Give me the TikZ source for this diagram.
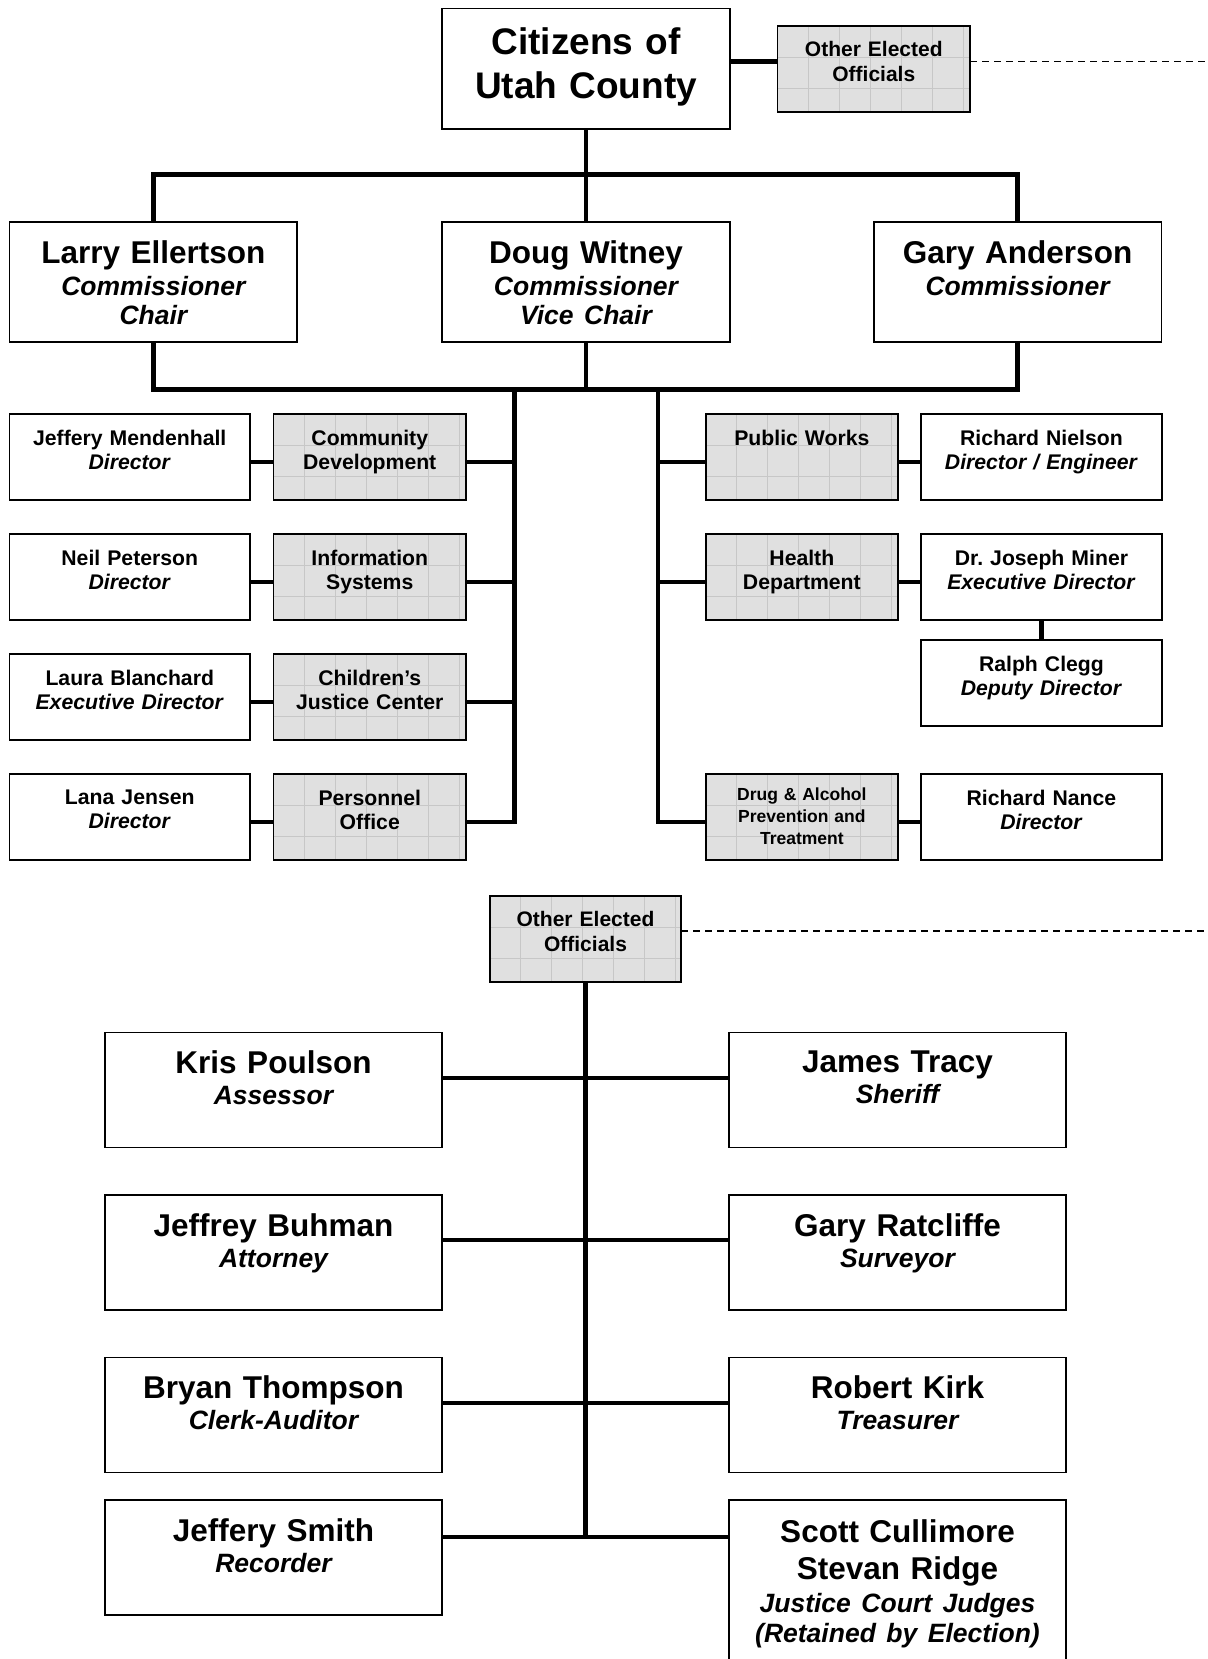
\documentclass[tikz,border=0pt]{standalone}
\usepackage{fontspec}
\setmainfont{Liberation Sans}
\newcommand\rolet[1]{{\fontsize{13.25}{14.8}\selectfont\itshape #1}}
\begin{document}
\frenchspacing
\begin{tikzpicture}[x=0.5pt,y=-0.5pt,
  box/.style={draw=black, line width=0.9pt, fill=white, inner sep=0pt, outer sep=0pt, rectangle},
  gridln/.style={draw=black!22, line width=0.35pt},
  dept/.style={box, fill=black!12, path picture={
      \foreach \k in {1,...,14}{
        \draw[gridln] ([xshift=\k*15.5pt]path picture bounding box.north west) -- ([xshift=\k*15.5pt]path picture bounding box.south west);
        \draw[gridln] ([yshift=-\k*15.5pt]path picture bounding box.north west) -- ([yshift=-\k*15.5pt]path picture bounding box.north east);
      }}},
  conn/.style={line width=2.2pt, line join=miter},
  dashln/.style={line width=0.65pt, dash pattern=on 3.6pt off 2.4pt},
  tx/.style={inner sep=0pt, outer sep=0pt, anchor=north, align=center},
  fbig/.style={font=\fontsize{18.5}{21.65}\selectfont\bfseries},
  fname/.style={font=\fontsize{15.75}{14.8}\selectfont\bfseries},
  fsmall/.style={font=\fontsize{10.6}{11.9}\selectfont\bfseries},
  ftiny/.style={font=\fontsize{8.75}{10.85}\selectfont\bfseries},
  foe/.style={font=\fontsize{10.5}{12.65}\selectfont\bfseries},
  pbox/.style={box, minimum width=120.2pt, minimum height=43pt},
  dbox/.style={dept, minimum width=96.25pt, minimum height=43pt},
  cbox/.style={box, minimum width=143.9pt, minimum height=59.8pt},
  ebox/.style={box, minimum width=168.5pt, minimum height=57.5pt},
]
\useasboundingbox (0,0) rectangle (1208,1659);
\clip (0,0) rectangle (1208,1659);

% ---------- top ----------
\node[box, minimum width=143.9pt, minimum height=60.3pt] (cit) at (586,68.8) {};
\node[tx, fbig, text width=143pt] (cit-t) at ([yshift=-9.75pt]cit.north) {Citizens of\\Utah County};
\node[dept, minimum width=96.3pt, minimum height=42.9pt] (oe1) at (873.8,69.3) {};
\node[tx, foe, text width=96pt] (oe1-t) at ([yshift=-7.4pt]oe1.north) {Other Elected\\Officials};

% ---------- commissioners ----------
\node[cbox] (larry) at (153.4,281.9) {};
\node[cbox] (doug) at (586,281.9) {};
\node[cbox] (gary) at (1017.6,281.9) {};
\node[tx, fname, text width=143pt] (larry-t) at ([yshift=-9.25pt]larry.north) {Larry Ellertson\\[1.1pt]\rolet{Commissioner}\\\rolet{Chair}};
\node[tx, fname, text width=143pt] (doug-t) at ([yshift=-9.25pt]doug.north) {Doug Witney\\[1.1pt]\rolet{Commissioner}\\\rolet{Vice Chair}};
\node[tx, fname, text width=143pt] (gary-t) at ([yshift=-9.25pt]gary.north) {Gary Anderson\\[1.1pt]\rolet{Commissioner}};

% ---------- left departments ----------
\node[pbox] (jm) at (129.75,457) {};
\node[dbox] (cd) at (369.75,457) {};
\node[pbox] (np) at (129.75,577) {};
\node[dbox] (is) at (369.75,577) {};
\node[pbox] (lb) at (129.75,697) {};
\node[dbox] (cjc) at (369.75,697) {};
\node[pbox] (lj) at (129.75,817) {};
\node[dbox] (po) at (369.75,817) {};

\node[tx, fsmall, text width=120pt] (jm-t) at ([yshift=-8pt]jm.north) {Jeffery Mendenhall\\\textit{Director}};
\node[tx, fsmall, text width=96pt] (cd-t) at ([yshift=-8pt]cd.north) {Community\\Development};
\node[tx, fsmall, text width=120pt] (np-t) at ([yshift=-8pt]np.north) {Neil Peterson\\\textit{Director}};
\node[tx, fsmall, text width=96pt] (is-t) at ([yshift=-8pt]is.north) {Information\\Systems};
\node[tx, fsmall, text width=120pt] (lb-t) at ([yshift=-8pt]lb.north) {Laura Blanchard\\\textit{Executive Director}};
\node[tx, fsmall, text width=96pt] (cjc-t) at ([yshift=-8pt]cjc.north) {Children’s\\Justice Center};
\node[tx, fsmall, text width=120pt] (lj-t) at ([yshift=-8pt]lj.north) {Lana Jensen\\\textit{Director}};
\node[tx, fsmall, text width=96pt] (po-t) at ([yshift=-8pt]po.north) {Personnel\\Office};

% ---------- right departments ----------
\node[dbox] (pw) at (801.85,457) {};
\node[pbox] (rn) at (1041.45,457) {};
\node[dbox] (hd) at (801.85,577) {};
\node[pbox] (jmi) at (1041.45,577) {};
\node[pbox] (rc) at (1041.45,683) {};
\node[dbox] (da) at (801.85,817) {};
\node[pbox] (rnc) at (1041.45,817) {};

\node[tx, fsmall, text width=96pt] (pw-t) at ([yshift=-8pt]pw.north) {Public Works};
\node[tx, fsmall, text width=120pt] (rn-t) at ([yshift=-8pt]rn.north) {Richard Nielson\\\textit{Director / Engineer}};
\node[tx, fsmall, text width=96pt] (hd-t) at ([yshift=-8pt]hd.north) {Health\\Department};
\node[tx, fsmall, text width=120pt] (jmi-t) at ([yshift=-8pt]jmi.north) {Dr. Joseph Miner\\\textit{Executive Director}};
\node[tx, fsmall, text width=120pt] (rc-t) at ([yshift=-8pt]rc.north) {Ralph Clegg\\\textit{Deputy Director}};
\node[tx, ftiny, text width=96pt] (da-t) at ([yshift=-7pt]da.north) {Drug \& Alcohol\\Prevention and\\Treatment};
\node[tx, fsmall, text width=120pt] (rnc-t) at ([yshift=-8pt]rnc.north) {Richard Nance\\\textit{Director}};

% ---------- other elected officials ----------
\node[dept, minimum width=95.7pt, minimum height=42.85pt] (oe2) at (585.5,938.9) {};
\node[tx, foe, text width=95pt] (oe2-t) at ([yshift=-7.6pt]oe2.north) {Other Elected\\Officials};

\node[ebox] (kp) at (273.5,1090) {};
\node[ebox] (jt) at (897.5,1090) {};
\node[ebox] (jb) at (273.5,1252.5) {};
\node[ebox] (gr) at (897.5,1252.5) {};
\node[ebox] (bt) at (273.5,1415) {};
\node[ebox] (rk) at (897.5,1415) {};
\node[ebox] (js) at (273.5,1557.7) {};
\node[box, minimum width=168.5pt, minimum height=110pt] (sc) at (897.5,1610) {};

\node[tx, fname, text width=168pt] (kp-t) at ([yshift=-9.3pt]kp.north) {Kris Poulson\\[0.6pt]\rolet{Assessor}};
\node[tx, fname, text width=168pt] (jt-t) at ([yshift=-9.3pt]jt.north) {James Tracy\\[0.6pt]\rolet{Sheriff}};
\node[tx, fname, text width=168pt] (jb-t) at ([yshift=-9.3pt]jb.north) {Jeffrey Buhman\\[0.6pt]\rolet{Attorney}};
\node[tx, fname, text width=168pt] (gr-t) at ([yshift=-9.3pt]gr.north) {Gary Ratcliffe\\[0.6pt]\rolet{Surveyor}};
\node[tx, fname, text width=168pt] (bt-t) at ([yshift=-9.3pt]bt.north) {Bryan Thompson\\[0.6pt]\rolet{Clerk-Auditor}};
\node[tx, fname, text width=168pt] (rk-t) at ([yshift=-9.3pt]rk.north) {Robert Kirk\\[0.6pt]\rolet{Treasurer}};
\node[tx, fname, text width=168pt] (js-t) at ([yshift=-9.3pt]js.north) {Jeffery Smith\\[0.6pt]\rolet{Recorder}};
\node[tx, fname, text width=168pt] (sc-t) at ([yshift=-9.8pt]sc.north) {Scott Cullimore\\[3.7pt]Stevan Ridge\\[1.9pt]\rolet{Justice Court Judges}\\\rolet{(Retained by Election)}};

% ---------- connectors ----------
\coordinate (c0) at (0,61.4);
\coordinate (edge1) at (1208,61.4);
\draw[conn] (cit.east |- c0) -- (oe1.west |- c0);
\draw[dashln] (oe1.east |- c0) -- (edge1);

\coordinate (tbar) at (586,174.5);
\coordinate (bbar) at (586,389.3);
\draw[conn] (cit.south) -- (doug.north);
\draw[conn] (larry.north) |- (tbar) -| (gary.north);
\draw[conn] (doug.south) -- (bbar);
\draw[conn] (larry.south) |- (bbar) -| (gary.south);

\coordinate (ltrunk) at (514.5,389.3);
\coordinate (rtrunk) at (658,389.3);
\coordinate (r1) at (0,461.7);
\coordinate (r2) at (0,581.7);
\coordinate (r3) at (0,701.7);
\coordinate (r4) at (0,821.7);

\draw[conn] (ltrunk) -- (ltrunk |- r4) -- (po.east |- r4);
\draw[conn] (cd.east |- r1) -- (ltrunk |- r1);
\draw[conn] (is.east |- r2) -- (ltrunk |- r2);
\draw[conn] (cjc.east |- r3) -- (ltrunk |- r3);
\draw[conn] (jm.east |- r1) -- (cd.west |- r1);
\draw[conn] (np.east |- r2) -- (is.west |- r2);
\draw[conn] (lb.east |- r3) -- (cjc.west |- r3);
\draw[conn] (lj.east |- r4) -- (po.west |- r4);

\draw[conn] (rtrunk) -- (rtrunk |- r4) -- (da.west |- r4);
\draw[conn] (rtrunk |- r1) -- (pw.west |- r1);
\draw[conn] (rtrunk |- r2) -- (hd.west |- r2);
\draw[conn] (pw.east |- r1) -- (rn.west |- r1);
\draw[conn] (hd.east |- r2) -- (jmi.west |- r2);
\draw[conn] (da.east |- r4) -- (rnc.west |- r4);
\draw[conn] (jmi.south) -- (rc.north);

\coordinate (c9) at (0,931);
\coordinate (edge2) at (1208,931);
\draw[dashln] (oe2.east |- c9) -- (edge2);

\coordinate (ya) at (0,1078);
\coordinate (yb) at (0,1240);
\coordinate (yc) at (0,1403);
\coordinate (yd) at (0,1537);
\draw[conn] (oe2.south) -- (oe2.south |- yd);
\draw[conn] (kp.east |- ya) -- (jt.west |- ya);
\draw[conn] (jb.east |- yb) -- (gr.west |- yb);
\draw[conn] (bt.east |- yc) -- (rk.west |- yc);
\draw[conn] (js.east |- yd) -- (sc.west |- yd);
\end{tikzpicture}
\end{document}
